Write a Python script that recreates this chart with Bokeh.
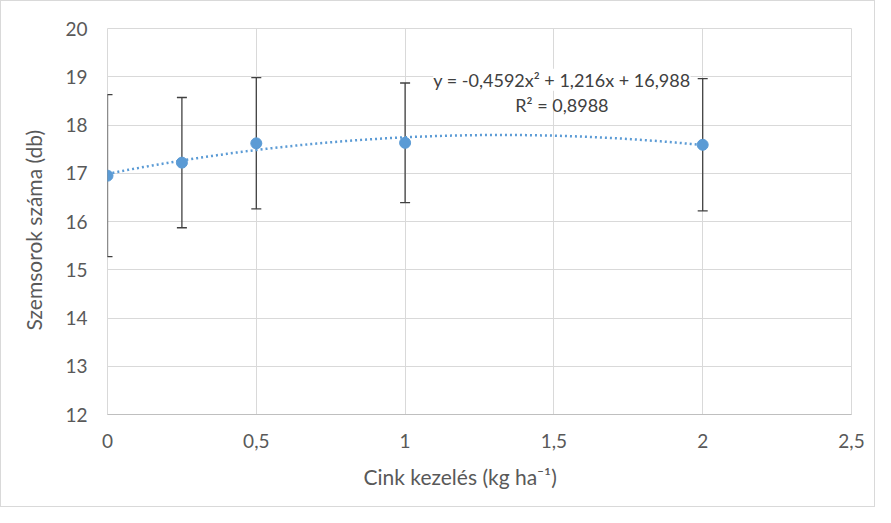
from bokeh.plotting import figure
from bokeh.models import ColumnDataSource, Whisker, TeeHead, FixedTicker, Range1d, Label, Title
from bokeh.embed import file_html
from bokeh.resources import INLINE
import numpy as np

# Data
zinc = [0, 0.25, 0.5, 1, 2]
rows = [16.95, 17.22, 17.62, 17.63, 17.59]
err = [1.68, 1.35, 1.36, 1.24, 1.37]
coef = [-0.4592, 1.216, 16.988]
eq_text = "y = -0,4592x² + 1,216x + 16,988"
r2_text = "R² = 0,8988"
x_title = "Cink kezelés (kg ha⁻¹)"
y_title = "Szemsorok száma (db)"
x_ticks = [0, 0.5, 1, 1.5, 2, 2.5]
x_tick_labels = ["0", "0,5", "1", "1,5", "2", "2,5"]
y_ticks = [12, 13, 14, 15, 16, 17, 18, 19, 20]

FONT = "Lato"
TXT = "#595959"
GRID = "#d9d9d9"
BLUE = "#5B9BD5"

p = figure(width=875, height=507, output_backend="svg", toolbar_location=None,
           x_range=Range1d(0, 2.5), y_range=Range1d(12, 20),
           min_border_left=105, min_border_right=25, min_border_top=27, min_border_bottom=94)
p.styles = {"border": "1px solid #d9d9d9"}
p.outline_line_color = GRID
p.background_fill_color = "white"
p.border_fill_color = "white"

p.xaxis.ticker = FixedTicker(ticks=x_ticks)
p.xaxis.major_label_overrides = {t: l for t, l in zip(x_ticks, x_tick_labels)}
p.yaxis.ticker = FixedTicker(ticks=y_ticks)

for ax in (p.xaxis, p.yaxis):
    ax.major_tick_line_color = None
    ax.minor_tick_line_color = None
    ax.major_label_text_font = FONT
    ax.major_label_text_font_size = "19px"
    ax.major_label_text_color = TXT

p.xaxis.axis_line_color = "#bfbfbf"
p.yaxis.axis_line_color = None
p.xaxis.major_label_standoff = 13
p.yaxis.major_label_standoff = 14

p.xgrid.ticker = FixedTicker(ticks=x_ticks)
p.ygrid.ticker = FixedTicker(ticks=y_ticks)
p.grid.grid_line_color = GRID
p.grid.grid_line_width = 1

# trend line from displayed coefficients
xt = np.linspace(0, 2, 200)
yt = coef[0] * xt ** 2 + coef[1] * xt + coef[2]
p.line(xt, yt, line_color=BLUE, line_width=2.5, line_dash="2 3")

src = ColumnDataSource(dict(x=zinc, y=rows,
                            upper=[r + e for r, e in zip(rows, err)],
                            lower=[r - e for r, e in zip(rows, err)]))
w = Whisker(base="x", upper="upper", lower="lower", source=src,
            line_color="#404040", line_width=1.3,
            upper_head=TeeHead(size=10, line_color="#404040", line_width=1.3),
            lower_head=TeeHead(size=10, line_color="#404040", line_width=1.3))
p.add_layout(w)

p.scatter("x", "y", source=src, size=11, fill_color=BLUE, line_color=BLUE)

p.add_layout(Label(x=1.527, y=18.94, text=eq_text, text_font=FONT, text_font_size="18px",
                   text_color="#404040", text_align="center", text_baseline="middle",
                   background_fill_color="white"))
p.add_layout(Label(x=1.527, y=18.42, text=r2_text, text_font=FONT, text_font_size="18px",
                   text_color="#404040", text_align="center", text_baseline="middle"))

# axis titles, placed like the original (not centred on the plot frame)
p.add_layout(Title(text=x_title, align="left", offset=256, standoff=23,
                   text_font=FONT, text_font_size="21px", text_color=TXT,
                   text_font_style="normal"), "below")
p.add_layout(Title(text=y_title, align="left", offset=84, standoff=34,
                   text_font=FONT, text_font_size="21px", text_color=TXT,
                   text_font_style="normal"), "left")

open("out.html", "w").write(file_html(p, INLINE))
